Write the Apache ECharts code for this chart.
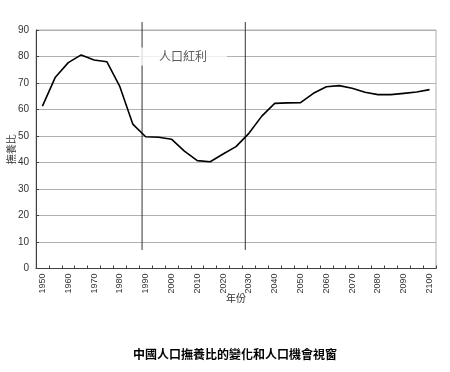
<!DOCTYPE html>
<html><head><meta charset="utf-8">
<script src="https://cdn.jsdelivr.net/npm/echarts@6/dist/echarts.min.js"></script>
<style>html,body{margin:0;padding:0;background:#fff}#c{width:450px;height:372px}</style>
</head><body><div id="c"></div>
<script>
const years = ['1950','1955','1960','1965','1970','1975','1980','1985','1990','1995','2000','2005','2010','2015','2020','2025','2030','2035','2040','2045','2050','2055','2060','2065','2070','2075','2080','2085','2090','2095','2100'];
const ratio = [61.3,72.2,77.7,80.6,78.7,78.0,68.6,54.5,49.7,49.5,48.8,44.3,40.7,40.3,43.2,46.0,51.0,57.5,62.3,62.5,62.6,66.1,68.6,69.0,68.0,66.5,65.6,65.6,66.1,66.6,67.5];
const windowYears = [1988.6, 2028.6];
const windowSpan = [7, 93];
const windowLabel = '人口紅利';
const windowLabelPos = [2004.5, 80];
const titleText = '中國人口撫養比的變化和人口機會視窗';
const xName = '年份';
const yName = '撫養比';

const chart = echarts.init(document.getElementById('c'), null, {renderer: 'canvas'});
const vlines = windowYears.map(y => ({
  type: 'line', xAxisIndex: 1, yAxisIndex: 0, clip: false, silent: true,
  symbol: 'none', lineStyle: {color: '#333', width: 1}, z: 3,
  data: [[y, windowSpan[0]], [y, windowSpan[1]]]
}));
chart.setOption({
  animation: false,
  backgroundColor: '#fff',
  textStyle: {fontFamily: 'Liberation Sans, Arial, sans-serif'},
  title: {
    text: titleText, left: 128, top: 343,
    textStyle: {fontSize: 12, fontWeight: 'bold', color: '#000', fontFamily: 'Noto Sans CJK TC'}
  },
  grid: {left: 36, right: 14, top: 30, bottom: 103.5, show: true, borderColor: '#b0b0b0', borderWidth: 1,
         outerBoundsMode: 'none', containLabel: false},
  xAxis: [{
    type: 'category', data: years, boundaryGap: true,
    name: xName, nameLocation: 'middle', nameGap: 25, nameMoveOverlap: false,
    nameTextStyle: {fontSize: 10, color: '#333', fontFamily: 'Noto Sans CJK TC'},
    axisLine: {lineStyle: {color: '#404040', width: 1}},
    axisTick: {show: true, inside: true, length: 3, interval: 0, lineStyle: {color: '#404040'}},
    axisLabel: {interval: 1, rotate: 90, fontSize: 9, color: '#333', margin: 5},
    splitLine: {show: false}
  }, {
    type: 'value', min: 1947.5, max: 2102.5, show: false
  }],
  yAxis: {
    type: 'value', min: 0, max: 90, interval: 10,
    name: yName, nameLocation: 'middle', nameGap: 20, nameRotate: 90, nameMoveOverlap: false,
    nameTextStyle: {fontSize: 10, color: '#333', fontFamily: 'Noto Sans CJK TC'},
    axisLine: {show: true, lineStyle: {color: '#404040', width: 1}},
    axisTick: {show: true, inside: true, length: 3, lineStyle: {color: '#404040'}},
    axisLabel: {fontSize: 10, color: '#333', margin: 7},
    splitLine: {lineStyle: {color: '#b0b0b0', width: 1}}
  },
  series: [{
    type: 'line', data: ratio, symbol: 'none', smooth: false,
    lineStyle: {color: '#000', width: 1.6}, z: 4
  }, ...vlines, {
    type: 'scatter', xAxisIndex: 1, yAxisIndex: 0, symbolSize: 0, silent: true, z: 5,
    data: [windowLabelPos],
    label: {
      show: true, position: 'inside', formatter: windowLabel,
      fontSize: 12, color: '#333', fontFamily: 'Noto Sans CJK TC',
      backgroundColor: '#fff', padding: [3, 20]
    }
  }]
});
</script></body></html>
